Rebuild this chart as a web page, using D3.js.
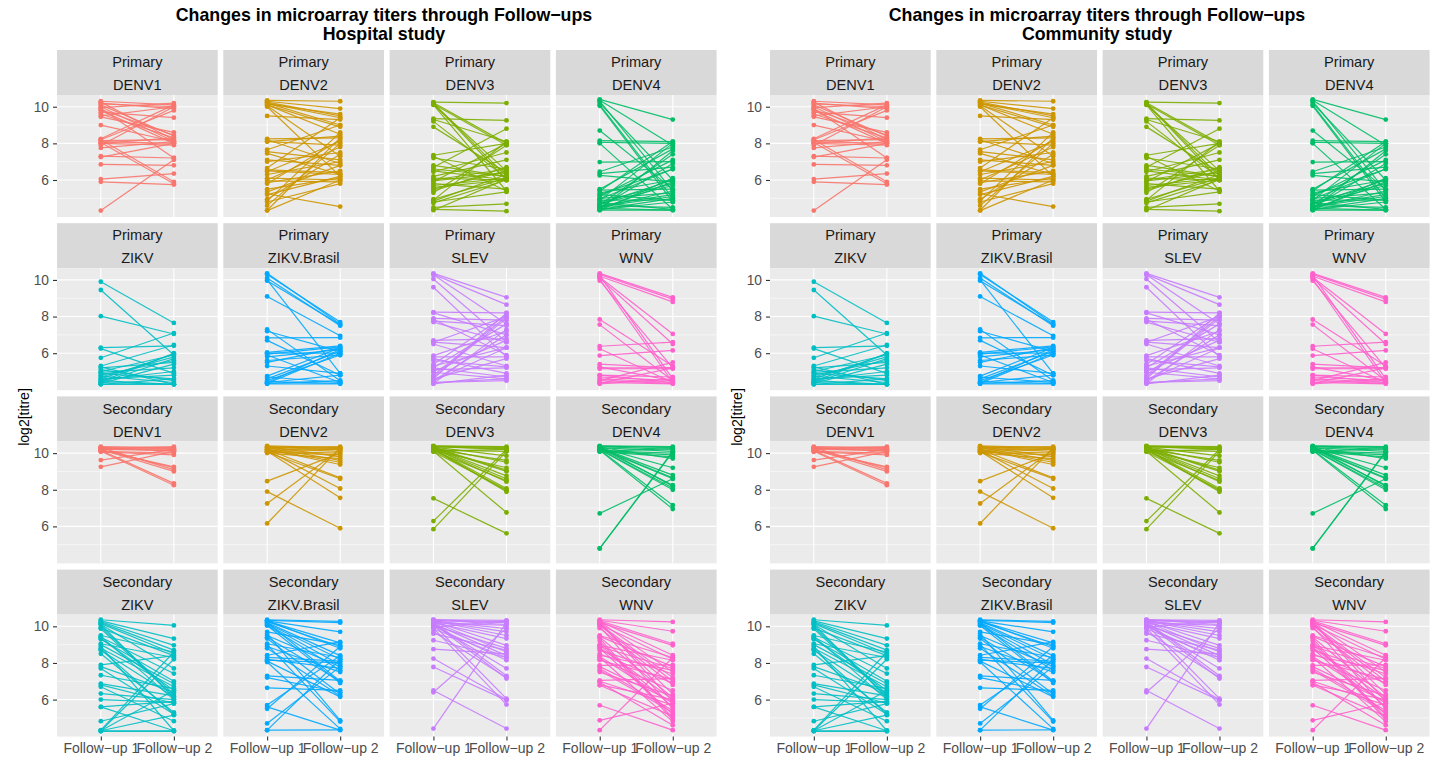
<!DOCTYPE html>
<html>
<head>
<meta charset="utf-8">
<title>Changes in microarray titers through Follow-ups</title>
<script src="https://cdn.jsdelivr.net/npm/d3@7"></script>
<style>
  body { margin: 0; background: #fff; }
  svg { display: block; }
  text { font-family: "Liberation Sans", Arial, Helvetica, sans-serif; }
</style>
</head>
<body>
<svg id="chart" width="1430" height="762"></svg>
<script>
// ---- categories -------------------------------------------------------
const studies  = ["Hospital study", "Community study"];
const immunity = ["Primary", "Secondary"];
const viruses  = ["DENV1", "DENV2", "DENV3", "DENV4", "ZIKV", "ZIKV.Brasil", "SLEV", "WNV"];
const visits   = ["Follow\u2212up 1", "Follow\u2212up 2"];
const yTicks   = [6, 8, 10];
const yMinor   = [5, 7, 9];
const virusColours = ["#F8766D", "#CD9600", "#7CAE00", "#00BE67", "#00BFC4", "#00A9FF", "#C77CFF", "#FF61CC"];

// ---- paired log2 titres: [follow-up 1, follow-up 2] per subject --------
const primaryDENV1 = [[10.3,10.1],[10.25,8.2],[10.2,9.9],[10.15,10.0],[10.1,8.4],[10.0,8.1],[9.95,10.2],[9.9,7.2],[9.8,8.0],[9.7,9.4],[9.6,8.3],[9.5,10.0],[9.45,8.6],[9.0,8.1],[8.25,10.1],[8.2,9.8],[8.15,8.2],[8.1,8.0],[8.05,5.8],[8.0,8.3],[8.0,7.9],[7.9,10.0],[7.75,8.1],[7.3,7.2],[7.25,8.0],[6.85,6.8],[6.05,6.35],[5.9,5.75],[4.33,7.1],[8.2,5.9],[9.85,8.45]];
const primaryDENV2 = [[10.35,10.3],[10.3,9.9],[10.25,9.5],[10.2,9.4],[10.15,9.6],[10.1,8.9],[10.05,7.3],[10.0,6.2],[10.2,9.0],[10.1,8.5],[9.5,9.3],[8.25,8.3],[8.2,6.9],[8.1,8.4],[7.65,9.0],[7.55,7.1],[7.45,6.3],[7.1,6.8],[7.0,7.5],[6.65,9.4],[6.55,6.4],[6.5,6.3],[6.45,8.1],[6.1,6.0],[6.0,7.8],[5.95,5.9],[5.85,6.5],[5.8,8.2],[5.35,6.8],[5.25,4.55],[5.2,6.2],[4.95,7.4],[4.85,8.6],[4.8,5.8],[4.35,8.3],[4.33,6.0],[5.5,6.1],[6.3,7.0],[8.1,7.9],[4.6,8.0]];
const primaryDENV3 = [[10.25,10.2],[10.22,8.0],[10.2,6.2],[10.18,6.0],[10.15,7.9],[10.1,5.4],[10.12,6.5],[9.35,9.25],[9.3,8.1],[9.2,6.1],[8.9,6.4],[7.35,8.0],[7.3,5.4],[6.7,8.8],[6.6,6.2],[6.5,6.0],[6.45,7.5],[6.2,7.1],[6.1,6.0],[6.0,6.6],[5.9,8.0],[5.8,5.5],[5.7,6.1],[5.6,6.0],[5.5,6.5],[5.4,6.7],[5.3,7.9],[4.95,6.1],[4.9,8.1],[4.85,6.3],[4.8,5.35],[4.75,6.0],[4.5,4.7],[4.4,4.3],[4.35,6.05],[6.8,6.2],[5.95,6.4],[7.2,6.6]];
const primaryDENV4 = [[10.4,9.3],[10.35,7.9],[10.3,5.4],[10.2,6.0],[10.1,5.0],[10.05,4.8],[8.7,5.5],[8.15,8.1],[8.05,8.0],[8.0,4.4],[6.98,7.0],[6.45,7.8],[6.35,6.7],[6.25,5.9],[5.5,7.7],[5.45,5.5],[5.4,8.1],[5.3,6.0],[5.2,4.9],[5.1,7.1],[5.0,5.3],[4.95,6.6],[4.9,8.0],[4.8,5.8],[4.75,4.4],[4.7,6.0],[4.65,7.4],[4.6,5.2],[4.55,5.1],[4.5,6.9],[4.45,4.35],[4.4,5.9],[4.38,4.8],[4.35,6.1],[4.35,4.35],[4.4,7.6],[4.5,5.4],[4.6,4.5],[4.7,5.7],[5.2,6.6],[4.9,4.9],[4.4,5.0]];
const primaryZIKV = [[9.9,7.65],[9.45,5.9],[8.02,7.05],[6.3,6.4],[6.25,4.9],[5.75,7.1],[5.3,6.45],[5.2,5.5],[5.1,4.5],[5.0,5.9],[4.95,5.2],[4.8,5.6],[4.75,4.4],[4.7,5.8],[4.6,4.8],[4.55,5.0],[4.5,4.3],[4.45,6.0],[4.4,4.3],[4.35,5.4],[4.3,4.3],[4.3,4.6],[4.4,5.7],[5.25,4.3],[4.9,4.6],[4.6,5.95]];
const primaryZIKVBrasil = [[10.36,7.6],[10.3,7.7],[10.1,7.5],[10.0,4.9],[9.96,7.55],[9.1,6.95],[7.3,4.5],[7.2,6.1],[6.84,6.85],[6.7,4.8],[6.05,6.4],[6.0,6.0],[5.9,4.4],[5.8,6.2],[5.6,5.9],[5.5,6.3],[5.3,4.9],[4.75,6.3],[4.7,4.4],[4.6,6.1],[4.5,5.9],[4.45,4.35],[4.4,6.2],[4.35,4.5],[4.33,4.33],[4.35,6.0],[4.4,4.8],[5.95,6.35]];
const primarySLEV = [[10.36,9.05],[10.3,8.65],[10.28,7.6],[10.05,6.6],[9.6,5.8],[8.24,8.2],[8.2,7.0],[7.9,7.8],[7.85,5.9],[7.75,7.5],[7.7,6.6],[6.7,6.8],[6.6,8.0],[6.5,5.3],[5.87,7.2],[5.8,5.8],[5.7,4.9],[5.4,8.1],[5.3,6.3],[5.2,7.6],[5.1,5.2],[5.0,6.7],[4.96,4.6],[4.8,8.0],[4.7,7.9],[4.6,5.7],[4.5,6.3],[4.4,4.5],[4.35,7.3],[4.33,4.8],[4.4,4.6],[4.6,8.2],[5.2,4.7],[4.5,7.0],[5.6,5.25],[6.6,6.3]];
const primaryWNV = [[10.36,9.05],[10.3,8.95],[10.2,8.8],[10.15,7.05],[10.1,6.5],[10.05,4.4],[9.96,5.2],[10.25,4.6],[7.84,5.3],[7.56,4.5],[6.38,6.6],[6.24,4.4],[5.87,6.15],[5.4,5.2],[5.2,5.2],[5.15,5.15],[5.25,4.5],[4.8,4.7],[4.7,4.5],[4.6,4.4],[4.5,4.35],[4.4,4.33],[4.35,5.2],[4.33,4.6],[4.5,5.5],[4.8,4.4]];
const secondaryDENV1 = [[10.35,10.3],[10.3,10.25],[10.3,10.1],[10.25,10.2],[10.2,9.2],[10.2,9.0],[10.15,8.35],[10.1,8.25],[10.1,10.0],[10.07,9.9],[10.3,9.1],[10.25,10.35],[9.62,10.2],[9.25,10.1],[10.2,10.15],[10.15,9.25]];
const secondaryDENV2 = [[10.4,10.3],[10.35,10.25],[10.3,10.2],[10.3,9.6],[10.25,10.1],[10.2,8.65],[10.2,9.38],[10.15,8.07],[10.1,10.0],[10.1,7.56],[10.05,9.9],[10.0,9.7],[10.35,9.8],[10.3,10.35],[10.2,9.5],[10.15,10.2],[10.05,8.6],[8.47,10.0],[7.9,5.9],[7.25,10.2],[6.16,10.3]];
const secondaryDENV3 = [[10.4,10.35],[10.38,10.3],[10.35,10.2],[10.33,9.85],[10.3,9.5],[10.3,9.07],[10.28,8.76],[10.25,8.6],[10.25,8.44],[10.22,8.07],[10.2,7.95],[10.2,7.89],[10.18,10.1],[10.15,9.2],[10.12,8.5],[10.1,6.76],[10.1,10.2],[10.08,8.0],[10.3,9.0],[10.35,10.25],[10.2,9.6],[7.53,5.62],[6.29,10.2],[5.85,10.1]];
const secondaryDENV4 = [[10.4,10.35],[10.38,10.3],[10.35,10.2],[10.32,9.7],[10.3,9.2],[10.3,8.8],[10.28,8.65],[10.25,8.6],[10.25,8.25],[10.2,8.1],[10.2,8.0],[10.18,7.16],[10.15,6.95],[10.12,10.0],[10.1,9.9],[10.1,10.25],[10.08,9.8],[10.3,10.1],[10.35,8.2],[6.71,8.6],[4.8,10.1],[4.8,10.05]];
const secondaryZIKV = [[10.36,10.05],[10.3,9.33],[10.25,8.96],[10.2,8.7],[10.15,8.5],[10.1,7.7],[9.96,6.3],[9.9,8.4],[9.87,6.2],[9.5,8.6],[9.45,6.0],[9.4,7.42],[9.33,6.5],[9.05,8.3],[9.0,6.87],[8.9,4.3],[8.8,6.7],[8.7,6.15],[8.5,5.3],[7.9,8.4],[7.8,6.4],[7.7,5.2],[7.33,6.6],[6.87,6.2],[6.8,5.8],[6.7,4.82],[6.33,6.0],[6.0,5.85],[5.6,5.9],[5.6,4.3],[4.82,5.78],[4.33,8.6],[4.3,8.2],[4.3,4.3],[4.27,4.27],[4.3,6.5],[4.3,5.15],[10.1,6.1],[9.3,7.0],[8.75,5.2]];
const secondaryZIKVBrasil = [[10.36,10.27],[10.33,10.2],[10.3,9.7],[10.28,9.1],[10.25,8.9],[10.2,8.4],[10.15,8.2],[10.1,7.9],[10.05,7.6],[10.05,6.9],[9.7,9.0],[9.5,7.8],[9.4,7.0],[9.33,6.3],[9.05,8.3],[9.0,4.8],[8.9,7.5],[8.8,6.2],[8.42,9.15],[8.3,8.1],[8.2,7.7],[8.1,6.15],[8.05,4.4],[7.3,7.05],[7.2,6.4],[6.64,6.5],[5.7,8.4],[5.6,4.33],[5.5,8.9],[4.7,7.8],[4.33,8.2],[4.33,4.35],[10.2,7.0],[9.6,4.87],[8.15,8.0],[10.3,8.8]];
const secondarySLEV = [[10.36,10.33],[10.35,10.25],[10.33,10.2],[10.3,9.87],[10.3,9.5],[10.28,8.96],[10.25,8.6],[10.25,7.3],[10.2,10.05],[10.2,9.33],[10.15,8.4],[10.15,7.15],[10.1,6.05],[10.05,8.8],[10.0,8.15],[9.95,10.3],[9.87,8.3],[9.7,7.2],[9.6,8.7],[9.24,8.3],[8.75,8.5],[8.24,6.0],[7.78,5.96],[6.5,4.42],[6.4,9.9],[4.42,10.2],[10.3,9.7],[10.1,7.7],[9.9,5.73],[10.35,10.1]];
const secondaryWNV = [[10.36,10.24],[10.33,9.73],[10.3,9.05],[10.28,8.42],[10.25,7.5],[10.2,8.96],[10.15,6.3],[10.1,8.2],[10.05,7.0],[10.0,5.5],[9.5,8.3],[9.45,7.8],[9.4,6.1],[9.33,5.0],[8.96,8.15],[8.9,7.7],[8.85,6.0],[8.8,5.2],[8.7,7.4],[8.42,7.6],[8.35,5.8],[8.3,4.8],[8.2,6.5],[8.15,7.1],[7.87,7.9],[7.8,5.9],[7.7,5.4],[7.5,6.2],[7.05,7.15],[7.0,5.7],[6.95,4.6],[6.8,6.0],[6.78,5.1],[5.69,4.33],[4.87,5.8],[4.33,8.3],[10.25,5.9],[9.9,6.8],[9.0,5.6],[8.5,6.9],[7.6,5.3],[10.1,7.2],[9.2,4.9]];

// facet_wrap order: immunity status first, then the eight antigens
const titres = {
  Primary:   [primaryDENV1, primaryDENV2, primaryDENV3, primaryDENV4, primaryZIKV, primaryZIKVBrasil, primarySLEV, primaryWNV],
  Secondary: [secondaryDENV1, secondaryDENV2, secondaryDENV3, secondaryDENV4, secondaryZIKV, secondaryZIKVBrasil, secondarySLEV, secondaryWNV]
};

// ---- layout -----------------------------------------------------------
const svg = d3.select("#chart");
const plotW = 713;          // width of one study plot
const facetLeft = 57, facetStep = 166.3, facetW = 160.7;
const stripTop = 50, rowStep = 173.2, stripH = 45, panelH = 122;
const nCol = 4;
const yDomain = [3.98, 10.64];

const facets = [];
immunity.forEach(im => viruses.forEach((v, vi) => facets.push({ im, v, vi })));

studies.forEach((study, si) => {
  const g = svg.append("g").attr("transform", `translate(${si * plotW},0)`);

  // title
  const title = g.append("text")
    .attr("x", 384).attr("text-anchor", "middle")
    .style("font-weight", "bold").style("font-size", "17.8px").attr("fill", "#000");
  title.append("tspan").attr("x", 384).attr("y", 21).text("Changes in microarray titers through Follow\u2212ups");
  title.append("tspan").attr("x", 384).attr("y", 40).text(study);

  // y axis title
  g.append("text")
    .attr("transform", "translate(29,417) rotate(-90)")
    .attr("text-anchor", "middle")
    .style("font-size", "14px").attr("fill", "#000")
    .text("log2[titre]");

  facets.forEach((f, i) => {
    const col = i % nCol, row = Math.floor(i / nCol);
    const x0 = facetLeft + col * facetStep;
    const sTop = stripTop + row * rowStep;
    const pTop = sTop + stripH, pBot = pTop + panelH;

    const x = d3.scalePoint().domain(visits).range([x0, x0 + facetW]).padding(0.6);
    const y = d3.scaleLinear().domain(yDomain).range([pBot, pTop]);
    const colour = virusColours[f.vi];

    const fg = g.append("g");

    // strip
    fg.append("rect").attr("x", x0).attr("y", sTop).attr("width", facetW).attr("height", stripH).attr("fill", "#D9D9D9");
    fg.append("text").attr("x", x0 + facetW / 2).attr("y", sTop + 12).attr("dy", "0.36em")
      .attr("text-anchor", "middle").style("font-size", "14.6px").attr("fill", "#1A1A1A").text(f.im);
    fg.append("text").attr("x", x0 + facetW / 2).attr("y", sTop + 35).attr("dy", "0.36em")
      .attr("text-anchor", "middle").style("font-size", "14.6px").attr("fill", "#1A1A1A").text(f.v);

    // panel background and grid
    fg.append("rect").attr("x", x0).attr("y", pTop).attr("width", facetW).attr("height", panelH).attr("fill", "#EBEBEB");
    fg.selectAll("line.minor").data(yMinor).join("line")
      .attr("x1", x0).attr("x2", x0 + facetW).attr("y1", d => y(d)).attr("y2", d => y(d))
      .attr("stroke", "#fff").attr("stroke-width", 0.55);
    fg.selectAll("line.major").data(yTicks).join("line")
      .attr("x1", x0).attr("x2", x0 + facetW).attr("y1", d => y(d)).attr("y2", d => y(d))
      .attr("stroke", "#fff").attr("stroke-width", 1.1);
    fg.selectAll("line.vmajor").data(visits).join("line")
      .attr("x1", d => x(d)).attr("x2", d => x(d)).attr("y1", pTop).attr("y2", pBot)
      .attr("stroke", "#fff").attr("stroke-width", 1.1);

    // subject trajectories
    const pairs = titres[f.im][f.vi];
    const line = d3.line().x((d, k) => x(visits[k])).y(d => y(d));
    fg.append("g").selectAll("path").data(pairs).join("path")
      .attr("d", d => line(d))
      .attr("fill", "none").attr("stroke", colour).attr("stroke-width", 1.2).attr("stroke-opacity", 0.9);
    const pts = pairs.flatMap(d => d.map((val, k) => ({ k, val })));
    fg.append("g").selectAll("circle").data(pts).join("circle")
      .attr("cx", d => x(visits[d.k])).attr("cy", d => y(d.val)).attr("r", 2.4)
      .attr("fill", colour);

    // axes
    if (col === 0) {
      const ax = fg.append("g").attr("transform", `translate(${x0},0)`)
        .call(d3.axisLeft(y).tickValues(yTicks).tickFormat(d3.format("d")).tickSize(4).tickPadding(4));
      ax.select(".domain").remove();
      ax.selectAll("line").attr("stroke", "#333").attr("stroke-width", 1.1);
      ax.selectAll("text").attr("fill", "#4D4D4D").style("font-size", "13.8px").attr("font-family", null);
    }
    if (row === 3) {
      const ax = fg.append("g").attr("transform", `translate(0,${pBot})`)
        .call(d3.axisBottom(x).tickSize(4).tickPadding(2));
      ax.select(".domain").remove();
      ax.selectAll("line").attr("stroke", "#333").attr("stroke-width", 1.1);
      ax.selectAll("text").attr("fill", "#4D4D4D").style("font-size", "14px").attr("font-family", null);
    }
  });
});
</script>
</body>
</html>
